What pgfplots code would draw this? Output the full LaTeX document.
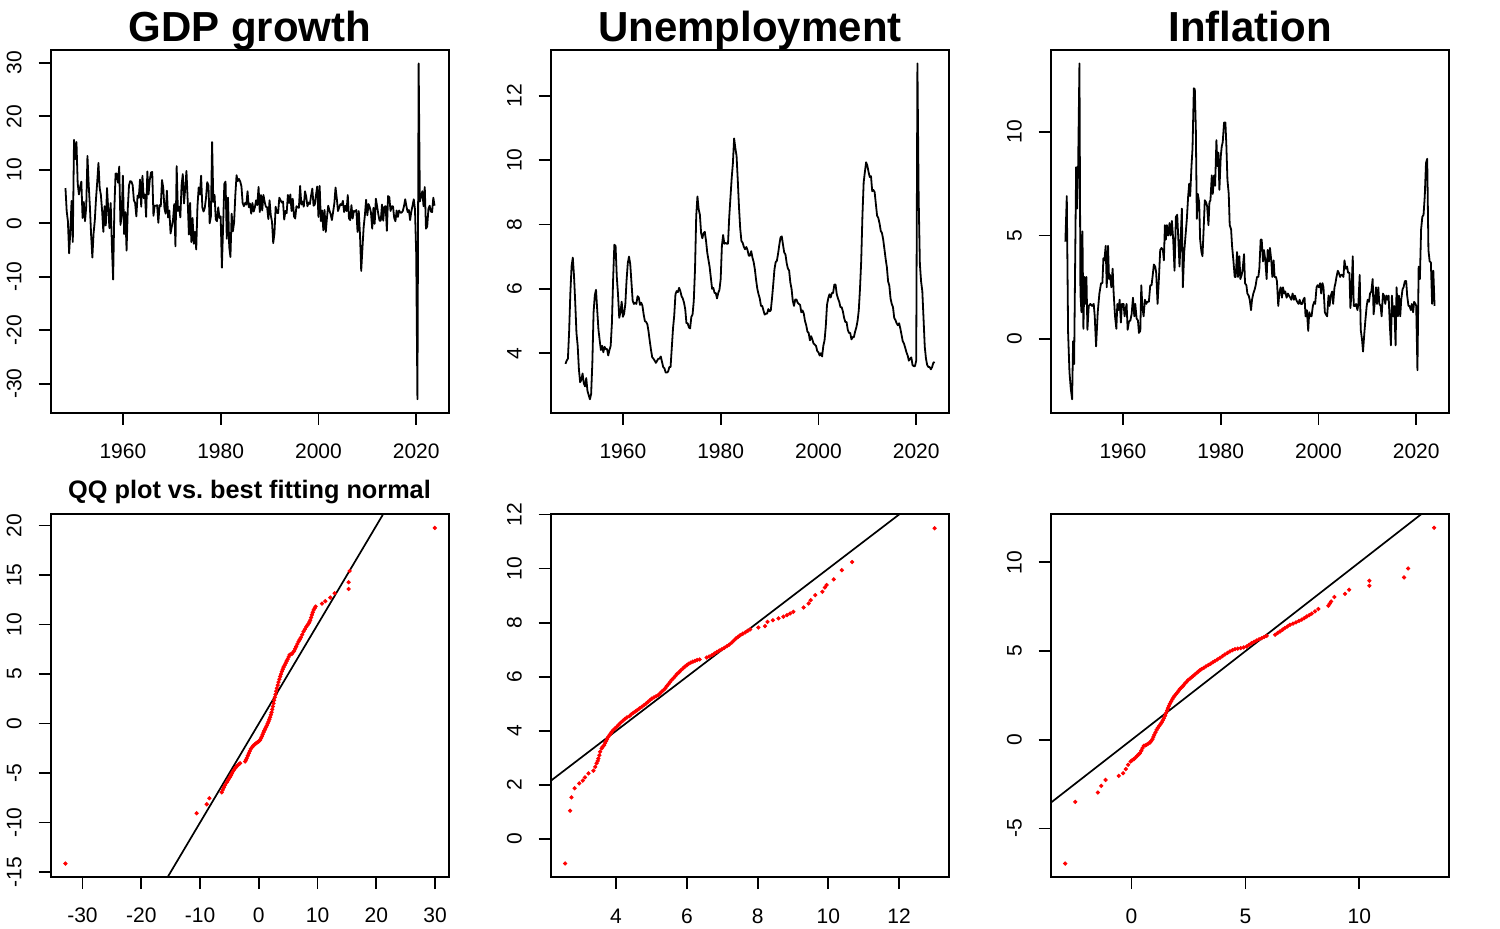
\documentclass[border=0pt]{standalone}
\usepackage{fontspec}
\setmainfont{Liberation Sans}
\usepackage{pgfplots}
\usepackage{pgfplotstable}
\pgfplotsset{compat=1.18}

\pgfplotstableread[row sep=\\]{v\\
6.6\\ 2.3\\ 0.4\\
-5.6\\ -1.4\\ 4.2\\ -3.5\\ 15.6\\ 12.0\\ 15.2\\ 7.5\\ 5.4\\ 6.8\\ 7.8\\ 1.0\\ 4.0\\ 0.4\\ 3.1\\ 12.6\\
7.3\\ 3.1\\ -2.2\\ -6.4\\ -1.9\\ 0.5\\ 4.6\\ 7.8\\ 11.3\\ 6.6\\ 5.3\\ 2.3\\ -1.6\\ 3.2\\ -0.4\\ 6.6\\
2.6\\ -0.9\\ 3.8\\ -4.2\\ -10.5\\ 2.6\\ 9.3\\ 9.3\\ 7.6\\ 10.6\\ -0.3\\ 1.4\\ 8.9\\ -2.0\\ 2.1\\ -5.1\\
2.7\\ 7.1\\ 7.9\\ 7.8\\ 7.1\\ 4.3\\ 3.8\\ 1.3\\ 5.2\\ 4.8\\ 8.2\\ 3.1\\ 8.9\\ 4.7\\ 5.4\\ 1.2\\
9.7\\ 5.4\\ 8.1\\ 9.5\\ 9.6\\ 1.4\\ 3.3\\ 3.3\\ 3.4\\ 0.1\\ 3.4\\ 3.2\\ 8.1\\ 6.7\\ 2.8\\ 1.8\\
6.1\\ 1.1\\ 2.4\\ -1.9\\ -0.6\\ 0.6\\ 3.6\\ -4.3\\ 10.7\\ 2.3\\ 3.1\\ 1.1\\ 7.1\\ 9.2\\ 3.7\\ 6.6\\
9.8\\ 4.4\\ -2.1\\ 3.8\\ -3.5\\ 1.0\\ -3.8\\ -1.6\\ -4.9\\ 3.1\\ 6.7\\ 5.4\\ 8.9\\ 3.0\\ 2.2\\ 2.9\\
4.7\\ 7.7\\ 7.1\\ 0.0\\ 1.3\\ 15.2\\ 4.0\\ 5.3\\ 0.7\\ 0.4\\ 3.0\\ 1.0\\ 1.3\\ -8.3\\ -0.5\\ 7.4\\
7.8\\ -2.9\\ 4.8\\ -4.4\\ -6.3\\ 1.8\\ -1.5\\ 0.2\\ 5.3\\ 9.0\\ 7.9\\ 8.3\\ 7.8\\ 6.9\\ 3.8\\ 3.2\\
3.8\\ 3.5\\ 6.0\\ 3.0\\ 3.7\\ 1.8\\ 3.8\\ 2.2\\ 3.0\\ 4.3\\ 3.4\\ 6.8\\ 2.1\\ 5.3\\ 2.4\\ 5.3\\
4.0\\ 3.1\\ 3.0\\ 0.8\\ 4.3\\ 1.5\\ 0.3\\ -3.7\\ -1.9\\ 3.1\\ 2.0\\ 1.9\\ 4.8\\ 4.3\\ 3.9\\ 4.1\\
0.7\\ 2.3\\ 1.9\\ 5.3\\ 3.8\\ 5.4\\ 2.3\\ 4.6\\ 1.3\\ 0.9\\ 3.2\\ 3.0\\ 2.9\\ 7.0\\ 3.5\\ 4.1\\
3.1\\ 6.0\\ 5.0\\ 3.2\\ 3.9\\ 3.6\\ 5.2\\ 6.5\\ 3.3\\ 3.5\\ 5.3\\ 6.9\\ 1.2\\ 7.0\\ 0.4\\ 2.4\\
-1.3\\ 2.5\\ -1.6\\ 1.1\\ 3.3\\ 2.4\\ 1.7\\ 0.6\\ 2.1\\ 3.7\\ 6.7\\ 4.7\\ 2.3\\ 3.0\\ 3.6\\ 3.4\\
4.2\\ 2.1\\ 3.3\\ 2.3\\ 5.3\\ 0.9\\ 0.6\\ 3.4\\ 0.9\\ 2.3\\ 2.2\\ 2.5\\ -1.6\\ 2.3\\ -2.1\\ -8.9\\
-4.7\\ -0.7\\ 1.5\\ 4.4\\ 1.5\\ 3.6\\ 3.0\\ 2.0\\ -1.0\\ 2.9\\ -0.1\\ 4.6\\ 3.2\\ 1.7\\ 0.5\\ 0.5\\
3.5\\ 0.5\\ 3.1\\ 3.2\\ -1.4\\ 5.1\\ 4.9\\ 2.3\\ 3.2\\ 3.2\\ 1.0\\ 0.4\\ 2.4\\ 1.2\\ 2.4\\ 2.0\\
2.0\\ 2.3\\ 3.2\\ 4.5\\ 3.2\\ 2.1\\ 2.5\\ 0.6\\ 2.2\\ 3.3\\ 4.5\\ 2.6\\ -5.7\\ -32.9\\ 29.9\\ 4.1\\
5.1\\ 6.0\\ 3.2\\ 6.8\\ -1.0\\ -0.6\\ 2.7\\ 3.3\\ 2.2\\ 2.1\\ 4.8\\ 3.3\\
}\gdp

\pgfplotstableread[row sep=\\]{v\\
3.67\\ 3.77\\ 3.83\\
4.67\\ 5.87\\ 6.70\\ 6.97\\ 6.40\\ 5.57\\ 4.63\\ 4.23\\ 3.50\\ 3.10\\ 3.17\\ 3.37\\ 3.07\\ 2.97\\ 3.23\\ 2.83\\
2.70\\ 2.57\\ 2.73\\ 3.70\\ 5.27\\ 5.80\\ 5.97\\ 5.33\\ 4.73\\ 4.40\\ 4.10\\ 4.23\\ 4.03\\ 4.20\\ 4.13\\ 4.13\\
3.93\\ 4.10\\ 4.23\\ 4.93\\ 6.30\\ 7.37\\ 7.33\\ 6.37\\ 5.83\\ 5.10\\ 5.27\\ 5.60\\ 5.13\\ 5.23\\ 5.53\\ 6.27\\
6.80\\ 7.00\\ 6.77\\ 6.20\\ 5.63\\ 5.53\\ 5.57\\ 5.53\\ 5.77\\ 5.73\\ 5.50\\ 5.57\\ 5.47\\ 5.20\\ 5.00\\ 4.97\\
4.90\\ 4.67\\ 4.37\\ 4.10\\ 3.87\\ 3.83\\ 3.77\\ 3.70\\ 3.77\\ 3.83\\ 3.83\\ 3.90\\ 3.73\\ 3.57\\ 3.53\\ 3.40\\
3.40\\ 3.43\\ 3.57\\ 3.57\\ 4.17\\ 4.77\\ 5.17\\ 5.83\\ 5.93\\ 5.90\\ 6.03\\ 5.93\\ 5.77\\ 5.70\\ 5.57\\ 5.37\\
4.93\\ 4.93\\ 4.80\\ 4.77\\ 5.13\\ 5.20\\ 5.63\\ 6.60\\ 8.27\\ 8.87\\ 8.47\\ 8.30\\ 7.73\\ 7.57\\ 7.73\\ 7.77\\
7.50\\ 7.13\\ 6.90\\ 6.67\\ 6.33\\ 6.00\\ 6.03\\ 5.87\\ 5.87\\ 5.70\\ 5.87\\ 5.97\\ 6.30\\ 7.33\\ 7.67\\ 7.40\\
7.43\\ 7.40\\ 7.40\\ 8.23\\ 8.83\\ 9.43\\ 9.90\\ 10.67\\ 10.37\\ 10.13\\ 9.37\\ 8.53\\ 7.87\\ 7.48\\ 7.43\\ 7.30\\
7.23\\ 7.30\\ 7.20\\ 7.03\\ 7.03\\ 7.17\\ 6.97\\ 6.83\\ 6.60\\ 6.27\\ 6.00\\ 5.83\\ 5.70\\ 5.47\\ 5.47\\ 5.33\\
5.20\\ 5.23\\ 5.23\\ 5.37\\ 5.30\\ 5.33\\ 5.70\\ 6.13\\ 6.60\\ 6.83\\ 6.87\\ 7.10\\ 7.37\\ 7.60\\ 7.63\\ 7.37\\
7.13\\ 7.07\\ 6.80\\ 6.63\\ 6.57\\ 6.20\\ 6.00\\ 5.63\\ 5.47\\ 5.67\\ 5.67\\ 5.57\\ 5.53\\ 5.50\\ 5.27\\ 5.33\\
5.23\\ 5.00\\ 4.87\\ 4.67\\ 4.63\\ 4.40\\ 4.53\\ 4.43\\ 4.30\\ 4.27\\ 4.23\\ 4.07\\ 4.03\\ 3.93\\ 4.00\\ 3.90\\
4.23\\ 4.40\\ 4.83\\ 5.50\\ 5.70\\ 5.83\\ 5.73\\ 5.87\\ 5.87\\ 6.13\\ 6.13\\ 5.83\\ 5.70\\ 5.60\\ 5.43\\ 5.43\\
5.30\\ 5.10\\ 4.97\\ 4.97\\ 4.73\\ 4.63\\ 4.63\\ 4.43\\ 4.50\\ 4.50\\ 4.67\\ 4.80\\ 5.00\\ 5.33\\ 6.00\\ 6.87\\
8.27\\ 9.30\\ 9.63\\ 9.93\\ 9.83\\ 9.63\\ 9.47\\ 9.50\\ 9.03\\ 9.07\\ 9.00\\ 8.63\\ 8.27\\ 8.20\\ 8.03\\ 7.80\\
7.73\\ 7.53\\ 7.23\\ 6.93\\ 6.67\\ 6.23\\ 6.10\\ 5.70\\ 5.53\\ 5.43\\ 5.10\\ 5.03\\ 4.93\\ 4.87\\ 4.93\\ 4.77\\
4.57\\ 4.37\\ 4.30\\ 4.17\\ 4.03\\ 3.93\\ 3.77\\ 3.83\\ 3.87\\ 3.63\\ 3.60\\ 3.60\\ 3.77\\ 13.00\\ 8.83\\ 6.77\\
6.23\\ 5.93\\ 5.07\\ 4.20\\ 3.83\\ 3.63\\ 3.57\\ 3.57\\ 3.50\\ 3.57\\ 3.70\\ 3.73\\
}\unemp

\pgfplotsset{
  rpanel/.style={
    scale only axis, width=199.3pt, height=181.35pt,
    anchor=south west,
    axis line style={line width=0.9pt, black},
    tick align=outside, tick pos=left,
    major tick length=6pt,
    every tick/.style={line width=0.9pt, black},
    tick label style={font=\fontsize{10.5}{12}\selectfont},
    xticklabel style={anchor=base, yshift=-17pt},
    yticklabel style={xshift=-8.6pt, rotate=90, anchor=base},
  },
  tsline/.style={black, line width=0.9pt, line join=round},
  qqpts/.style={only marks, mark=*, mark size=0.85pt, red, mark options={draw=none, fill=red}},
  qqline/.style={black, line width=0.85pt},
}

\begin{document}
\begin{tikzpicture}
\path[use as bounding box] (0,0) rectangle (750pt,464pt);

% ---------- GDP growth ----------
\begin{axis}[rpanel, at={(25.35pt,257.65pt)},
  xmin=1945.23, xmax=2026.77, ymin=-35.41, ymax=32.41,
  xtick={1960,1980,2000,2020}, xticklabels={1960,1980,2000,2020},
  ytick={-30,-20,-10,0,10,20,30}, yticklabels={-30,-20,-10,0,10,20,30}]
\addplot[tsline] table[x expr={1948.25+0.25*\coordindex}, y=v] {\gdp};
\end{axis}

% ---------- Unemployment ----------
\begin{axis}[rpanel, at={(275.35pt,257.65pt)},
  xmin=1945.23, xmax=2026.77, ymin=2.153, ymax=13.417,
  xtick={1960,1980,2000,2020}, xticklabels={1960,1980,2000,2020},
  ytick={4,6,8,10,12}, yticklabels={4,6,8,10,12}]
\addplot[tsline] table[x expr={1948.25+0.25*\coordindex}, y=v] {\unemp};
\end{axis}

% ---------- Inflation ----------
\begin{axis}[rpanel, at={(525.35pt,257.65pt)},
  xmin=1945.23, xmax=2026.77, ymin=-3.548, ymax=13.948,
  xtick={1960,1980,2000,2020}, xticklabels={1960,1980,2000,2020},
  ytick={0,5,10}, yticklabels={0,5,10}]
\addplot[tsline] coordinates {
(1948.23,4.7)(1948.52,6.9)(1948.79,0.3)(1949.07,-1.6)(1949.34,-2.4)(1949.61,-2.9)(1949.81,-0.1)(1950.02,-1.2)
(1950.43,8.3)(1950.63,6.3)(1950.84,8.3)(1951.11,13.3)(1951.31,2.2)(1951.52,1.3)(1951.72,5.2)(1951.92,0.5)
(1952.13,3.0)(1952.33,1.7)(1952.54,3.0)(1952.74,0.45)(1953.01,1.6)(1953.35,1.7)(1953.69,1.6)(1954.03,1.7)
(1954.24,1.1)(1954.51,-0.35)(1954.85,1.3)(1955.19,2.2)(1955.53,2.7)(1955.80,2.7)(1956.01,3.9)(1956.21,3.8)
(1956.48,4.5)(1956.69,2.5)(1956.96,4.5)(1957.16,2.9)(1957.37,3.1)(1957.63,2.5)(1957.90,3.4)(1958.11,2.2)
(1958.39,1.1)(1958.66,0.5)(1958.86,1.7)(1959.12,1.4)(1959.33,1.9)(1959.59,0.8)(1959.80,1.7)(1960.14,1.7)
(1960.34,1.1)(1960.75,1.7)(1960.97,0.45)(1961.24,0.85)(1961.52,0.9)(1961.78,1.2)(1962.06,2.0)(1962.33,1.1)
(1962.53,1.7)(1962.80,1.0)(1963.08,0.9)(1963.28,0.3)(1963.56,0.4)(1963.76,2.6)(1963.97,1.6)(1964.23,1.1)
(1964.50,1.9)(1964.77,1.7)(1964.98,1.8)(1965.31,1.8)(1965.59,2.6)(1965.86,2.6)(1966.06,3.0)(1966.33,3.6)
(1966.61,3.5)(1966.81,3.2)(1967.09,1.7)(1967.36,2.9)(1967.63,4.3)(1967.90,4.4)(1968.18,4.3)(1968.38,3.8)
(1968.59,5.5)(1968.79,4.8)(1969.00,5.5)(1969.27,5.0)(1969.54,5.6)(1969.75,5.0)(1970.02,5.7)(1970.29,4.8)
(1970.56,3.3)(1970.84,5.9)(1971.11,6.0)(1971.38,4.6)(1971.58,3.5)(1971.86,5.1)(1972.06,6.3)(1972.26,2.5)
(1972.54,4.2)(1972.81,5.0)(1973.08,5.8)(1973.35,6.9)(1973.56,7.5)(1973.76,6.9)(1974.03,8.35)(1974.24,9.2)
(1974.51,12.1)(1974.71,12.05)(1974.92,10.1)(1975.12,5.8)(1975.33,7.0)(1975.60,6.6)(1975.80,4.8)(1976.07,4.2)
(1976.28,4.0)(1976.55,5.5)(1976.75,6.7)(1977.02,6.6)(1977.23,6.4)(1977.50,5.5)(1977.70,6.6)(1977.91,6.7)
(1978.18,7.9)(1978.38,7.0)(1978.65,7.9)(1978.86,7.4)(1979.13,9.6)(1979.33,8.35)(1979.53,9.0)(1979.74,7.2)
(1980.01,8.8)(1980.22,9.3)(1980.42,9.5)(1980.69,10.45)(1980.97,10.45)(1981.17,9.3)(1981.38,7.7)(1981.65,7.0)
(1981.85,5.5)(1982.13,5.3)(1982.33,4.5)(1982.60,3.8)(1982.87,3.0)(1983.07,3.0)(1983.35,4.2)(1983.55,3.0)
(1983.82,4.0)(1984.03,2.9)(1984.30,3.1)(1984.51,3.4)(1984.78,4.1)(1984.98,2.7)(1985.26,2.6)(1985.46,2.2)
(1985.73,2.1)(1985.94,1.9)(1986.21,1.4)(1986.41,1.9)(1986.68,2.2)(1986.96,2.4)(1987.16,2.6)(1987.43,3.0)
(1987.70,3.0)(1987.91,3.4)(1988.18,4.8)(1988.39,4.8)(1988.66,3.75)(1988.86,4.3)(1989.13,3.8)(1989.40,2.9)
(1989.61,4.3)(1989.88,3.75)(1990.08,4.4)(1990.35,3.8)(1990.56,3.0)(1990.83,3.8)(1991.03,3.0)(1991.31,3.0)
(1991.51,2.8)(1991.78,1.6)(1991.99,2.2)(1992.26,2.5)(1992.53,2.0)(1992.74,2.5)(1993.01,2.2)(1993.21,2.3)
(1993.49,2.0)(1993.76,2.2)(1993.96,2.1)(1994.24,2.0)(1994.44,1.9)(1994.71,2.2)(1994.98,1.9)(1995.19,2.1)
(1995.46,1.9)(1995.66,1.8)(1995.93,1.7)(1996.14,1.9)(1996.41,1.7)(1996.68,1.7)(1996.89,1.9)(1997.16,2.0)
(1997.36,1.1)(1997.63,1.4)(1997.91,0.4)(1998.11,1.3)(1998.38,1.1)(1998.59,1.1)(1998.86,1.6)(1999.13,1.8)
(1999.33,1.7)(1999.61,2.5)(1999.81,2.6)(2000.08,2.5)(2000.35,2.7)(2000.56,2.2)(2000.83,2.7)(2001.03,2.5)
(2001.31,1.3)(2001.51,1.2)(2001.78,1.1)(2002.06,2.1)(2002.26,1.6)(2002.53,2.1)(2002.81,2.3)(2003.01,1.7)
(2003.28,2.5)(2003.48,2.7)(2003.69,3.0)(2003.96,3.3)(2004.16,3.2)(2004.44,3.0)(2004.64,3.1)(2004.91,3.1)
(2005.12,3.0)(2005.32,3.8)(2005.59,3.4)(2005.86,3.5)(2006.07,3.2)(2006.34,3.2)(2006.54,1.5)(2006.75,2.2)
(2007.02,4.0)(2007.22,1.6)(2007.49,1.6)(2007.70,1.7)(2007.97,1.4)(2008.17,1.7)(2008.44,3.1)(2008.65,0.45)
(2008.92,-0.03)(2009.12,-0.6)(2009.39,0.3)(2009.60,0.9)(2009.87,1.6)(2010.07,1.9)(2010.34,1.8)(2010.55,2.2)
(2010.82,2.3)(2011.09,2.9)(2011.29,1.2)(2011.50,1.7)(2011.77,2.5)(2011.97,1.7)(2012.25,2.5)(2012.45,1.7)
(2012.72,1.6)(2012.92,1.1)(2013.20,2.2)(2013.40,2.1)(2013.67,1.7)(2013.88,2.1)(2014.15,1.9)(2014.35,2.1)
(2014.62,0.6)(2014.83,-0.3)(2015.03,2.1)(2015.30,1.1)(2015.51,1.6)(2015.78,-0.3)(2015.98,2.5)(2016.25,1.1)
(2016.46,2.1)(2016.73,1.1)(2016.93,1.9)(2017.20,2.4)(2017.41,2.5)(2017.68,2.8)(2017.95,2.8)(2018.15,2.1)
(2018.42,1.6)(2018.63,1.6)(2018.90,1.4)(2019.10,1.7)(2019.37,1.3)(2019.58,1.8)(2019.85,1.7)(2020.0,1.6)
(2020.25,-1.5)(2020.5,3.5)(2020.75,2.9)(2021.0,5.3)(2021.25,5.9)(2021.5,6.0)(2021.75,6.9)(2022.0,8.5)
(2022.25,8.7)(2022.5,4.3)(2022.75,3.75)(2023.0,3.7)(2023.25,1.7)(2023.5,3.3)(2023.75,1.6)
};
\end{axis}

% ---------- QQ GDP ----------
\begin{axis}[rpanel, at={(25.35pt,25.5pt)},
  xmin=-35.41, xmax=32.41, ymin=-15.50, ymax=21.14,
  xtick={-30,-20,-10,0,10,20,30}, xticklabels={-30,-20,-10,0,10,20,30},
  ytick={-15,-10,-5,0,5,10,15,20}, yticklabels={-15,-10,-5,0,5,10,15,20}]
\addplot[qqline] coordinates {(-40,-40) (40,40)};
\addplot[qqpts] coordinates {
(-32.9,-14.14)(-10.57,-9.06)(-8.86,-8.15)(-8.41,-7.54)(-6.31,-6.94)(-6.14,-6.70)(-5.95,-6.45)(-5.74,-6.20)(-5.45,-5.93)
(-5.28,-5.76)(-5.11,-5.59)(-4.94,-5.42)(-4.77,-5.25)(-4.60,-5.05)(-4.43,-4.85)(-4.23,-4.68)(-4.03,-4.51)(-3.84,-4.37)(-3.64,-4.24)(-3.41,-4.12)(-3.18,-4.01)
(-2.33,-3.84)(-2.19,-3.67)(-2.05,-3.50)(-1.88,-3.25)(-1.70,-3.00)(-1.53,-2.78)(-1.36,-2.56)(-1.13,-2.39)(-0.91,-2.22)(-0.68,-2.10)(-0.45,-1.99)(-0.25,-1.90)(-0.06,-1.82)
(0.08,-1.74)(0.23,-1.65)(0.37,-1.48)(0.51,-1.31)(0.65,-1.10)(0.80,-0.88)(0.94,-0.71)(1.08,-0.54)(1.22,-0.37)(1.36,-0.20)(1.50,0.00)(1.65,0.20)(1.79,0.42)(1.93,0.64)(2.05,0.89)
(2.16,1.14)(2.28,1.43)(2.39,1.72)(2.50,2.04)(2.61,2.36)(2.72,2.66)(2.84,2.96)(2.95,3.27)(3.07,3.57)(3.21,3.88)(3.35,4.18)(3.50,4.47)(3.64,4.75)(3.78,5.00)(3.92,5.25)
(4.06,5.47)(4.20,5.69)(4.38,5.89)(4.55,6.09)(4.72,6.30)(4.89,6.50)(5.06,6.72)(5.23,6.94)(5.43,6.99)(5.63,7.04)(5.82,7.19)(6.02,7.34)(6.19,7.56)(6.36,7.78)(6.56,8.03)
(6.76,8.28)(6.96,8.49)(7.16,8.69)(7.38,8.99)(7.61,9.29)(7.84,9.52)(8.07,9.76)(8.27,9.93)(8.47,10.10)(8.61,10.27)(8.75,10.44)(8.89,10.71)(9.03,10.98)(9.17,11.23)(9.32,11.48)
(9.49,11.65)(9.66,11.82)(10.74,12.12)(11.31,12.36)(12.16,12.73)(12.90,13.16)(15.28,13.60)(15.28,14.28)(15.45,15.42)
(29.94,19.76)
};
\end{axis}

% ---------- QQ Unemployment ----------
\begin{axis}[rpanel, at={(275.35pt,25.5pt)},
  xmin=2.153, xmax=13.417, ymin=-1.40, ymax=12.005,
  xtick={4,6,8,10,12}, xticklabels={4,6,8,10,12},
  ytick={0,2,4,6,8,10,12}, yticklabels={0,2,4,6,8,10,12}]
\addplot[qqline] coordinates {(0,0) (15,15)};
\addplot[qqpts] coordinates {
(2.56,-0.90)(2.70,1.05)(2.74,1.54)(2.83,1.88)(2.96,2.06)(3.06,2.16)(3.12,2.28)(3.22,2.43)(3.36,2.53)
(3.41,2.67)(3.45,2.80)(3.48,2.89)(3.50,2.98)(3.53,3.10)(3.55,3.23)(3.59,3.35)(3.62,3.41)(3.66,3.47)(3.69,3.55)(3.72,3.63)(3.75,3.70)(3.78,3.78)(3.82,3.85)(3.85,3.91)
(3.88,3.97)(3.92,4.03)(3.97,4.09)(4.02,4.15)(4.07,4.22)(4.13,4.30)(4.19,4.37)(4.25,4.44)(4.31,4.50)(4.38,4.55)(4.43,4.61)(4.49,4.67)(4.55,4.72)(4.60,4.77)(4.66,4.83)(4.73,4.89)(4.79,4.95)(4.85,5.01)
(4.90,5.07)(4.96,5.14)(5.01,5.19)(5.07,5.24)(5.13,5.28)(5.19,5.32)(5.24,5.38)(5.29,5.45)(5.34,5.51)(5.39,5.57)(5.43,5.65)(5.48,5.73)(5.52,5.80)(5.57,5.88)(5.62,5.95)(5.67,6.02)(5.72,6.10)(5.78,6.17)
(5.83,6.24)(5.89,6.31)(5.94,6.37)(6.00,6.43)(6.05,6.48)(6.11,6.52)(6.17,6.56)(6.23,6.59)(6.29,6.62)(6.36,6.64)(6.56,6.71)(6.63,6.75)(6.71,6.80)(6.78,6.86)(6.85,6.92)(6.92,6.97)(6.99,7.02)
(7.06,7.07)(7.13,7.13)(7.20,7.19)(7.27,7.26)(7.33,7.34)(7.39,7.42)(7.45,7.48)(7.51,7.54)(7.58,7.59)(7.65,7.64)(7.72,7.70)(7.79,7.75)(8.02,7.82)(8.21,7.87)(8.28,8.03)
(8.43,8.09)(8.59,8.16)(8.73,8.22)(8.83,8.28)(8.92,8.34)(9.01,8.40)(9.30,8.56)(9.44,8.71)(9.50,8.83)
(9.63,9.02)(9.83,9.14)(9.90,9.30)(9.95,9.39)(10.15,9.60)(10.38,9.94)(10.67,10.24)(13.00,11.49)
};
\end{axis}

% ---------- QQ Inflation ----------
\begin{axis}[rpanel, at={(525.35pt,25.5pt)},
  xmin=-3.548, xmax=13.948, ymin=-7.73, ymax=12.71,
  xtick={0,5,10}, xticklabels={0,5,10},
  ytick={-5,0,5,10}, yticklabels={-5,0,5,10}]
\addplot[qqline] coordinates {(-10,-10) (20,20)};
\addplot[qqpts] coordinates {
(-2.91,-6.97)(-2.47,-3.50)(-1.48,-2.97)(-1.33,-2.59)(-1.14,-2.26)(-0.56,-2.03)(-0.37,-1.88)(-0.25,-1.65)
(-0.15,-1.41)(-0.04,-1.22)(0.03,-1.15)(0.10,-1.09)(0.18,-0.99)(0.25,-0.90)(0.31,-0.82)(0.37,-0.75)(0.43,-0.61)(0.48,-0.47)(0.54,-0.34)(0.60,-0.31)(0.66,-0.28)
(0.74,-0.21)(0.81,-0.15)(0.87,-0.05)(0.92,0.04)(0.96,0.16)(1.00,0.28)(1.05,0.42)(1.10,0.56)(1.16,0.68)(1.22,0.79)(1.27,0.89)(1.32,0.98)(1.37,1.10)(1.42,1.22)(1.47,1.36)(1.51,1.50)(1.56,1.65)(1.60,1.79)
(1.64,1.91)(1.68,2.03)(1.74,2.16)(1.79,2.29)(1.84,2.39)(1.89,2.48)(1.95,2.58)(2.01,2.67)(2.07,2.77)(2.12,2.86)(2.18,2.94)(2.24,3.01)(2.30,3.11)(2.36,3.20)(2.43,3.29)(2.49,3.38)(2.57,3.46)(2.64,3.53)
(2.71,3.61)(2.78,3.68)(2.86,3.77)(2.93,3.85)(3.00,3.92)(3.07,3.98)(3.17,4.06)(3.27,4.14)(3.37,4.22)(3.47,4.29)(3.57,4.37)(3.66,4.44)(3.77,4.53)(3.88,4.62)(3.99,4.72)(4.10,4.81)(4.21,4.90)(4.32,4.98)
(4.43,5.05)(4.54,5.11)(4.66,5.14)(4.79,5.17)(4.92,5.21)(5.05,5.26)(5.16,5.36)(5.27,5.45)(5.38,5.53)(5.49,5.60)(5.60,5.67)(5.71,5.73)(5.82,5.80)(5.93,5.86)(6.30,5.92)(6.41,6.02)(6.52,6.11)
(6.63,6.21)(6.73,6.30)(6.84,6.39)(6.95,6.48)(7.09,6.55)(7.22,6.62)(7.35,6.70)(7.47,6.77)(7.58,6.86)(7.69,6.95)(7.80,7.03)(7.91,7.11)(8.05,7.24)(8.20,7.37)(8.64,7.56)(8.70,7.68)(8.76,7.80)
(8.90,8.05)(9.37,8.23)(9.55,8.46)(10.44,8.68)(10.44,8.97)(11.96,9.15)(12.14,9.66)(13.28,11.95)
};
\end{axis}

% ---------- titles ----------
\node[anchor=base, font=\fontsize{21}{25}\selectfont\bfseries] at (125pt,443pt) {GDP growth};
\node[anchor=base, font=\fontsize{21}{25}\selectfont\bfseries] at (375pt,443pt) {Unemployment};
\node[anchor=base, font=\fontsize{21}{25}\selectfont\bfseries] at (625pt,443pt) {Inflation};
\node[anchor=base, font=\fontsize{12.65}{15}\selectfont\bfseries] at (124.75pt,214.5pt) {QQ plot vs.\ best fitting normal};
\end{tikzpicture}
\end{document}
